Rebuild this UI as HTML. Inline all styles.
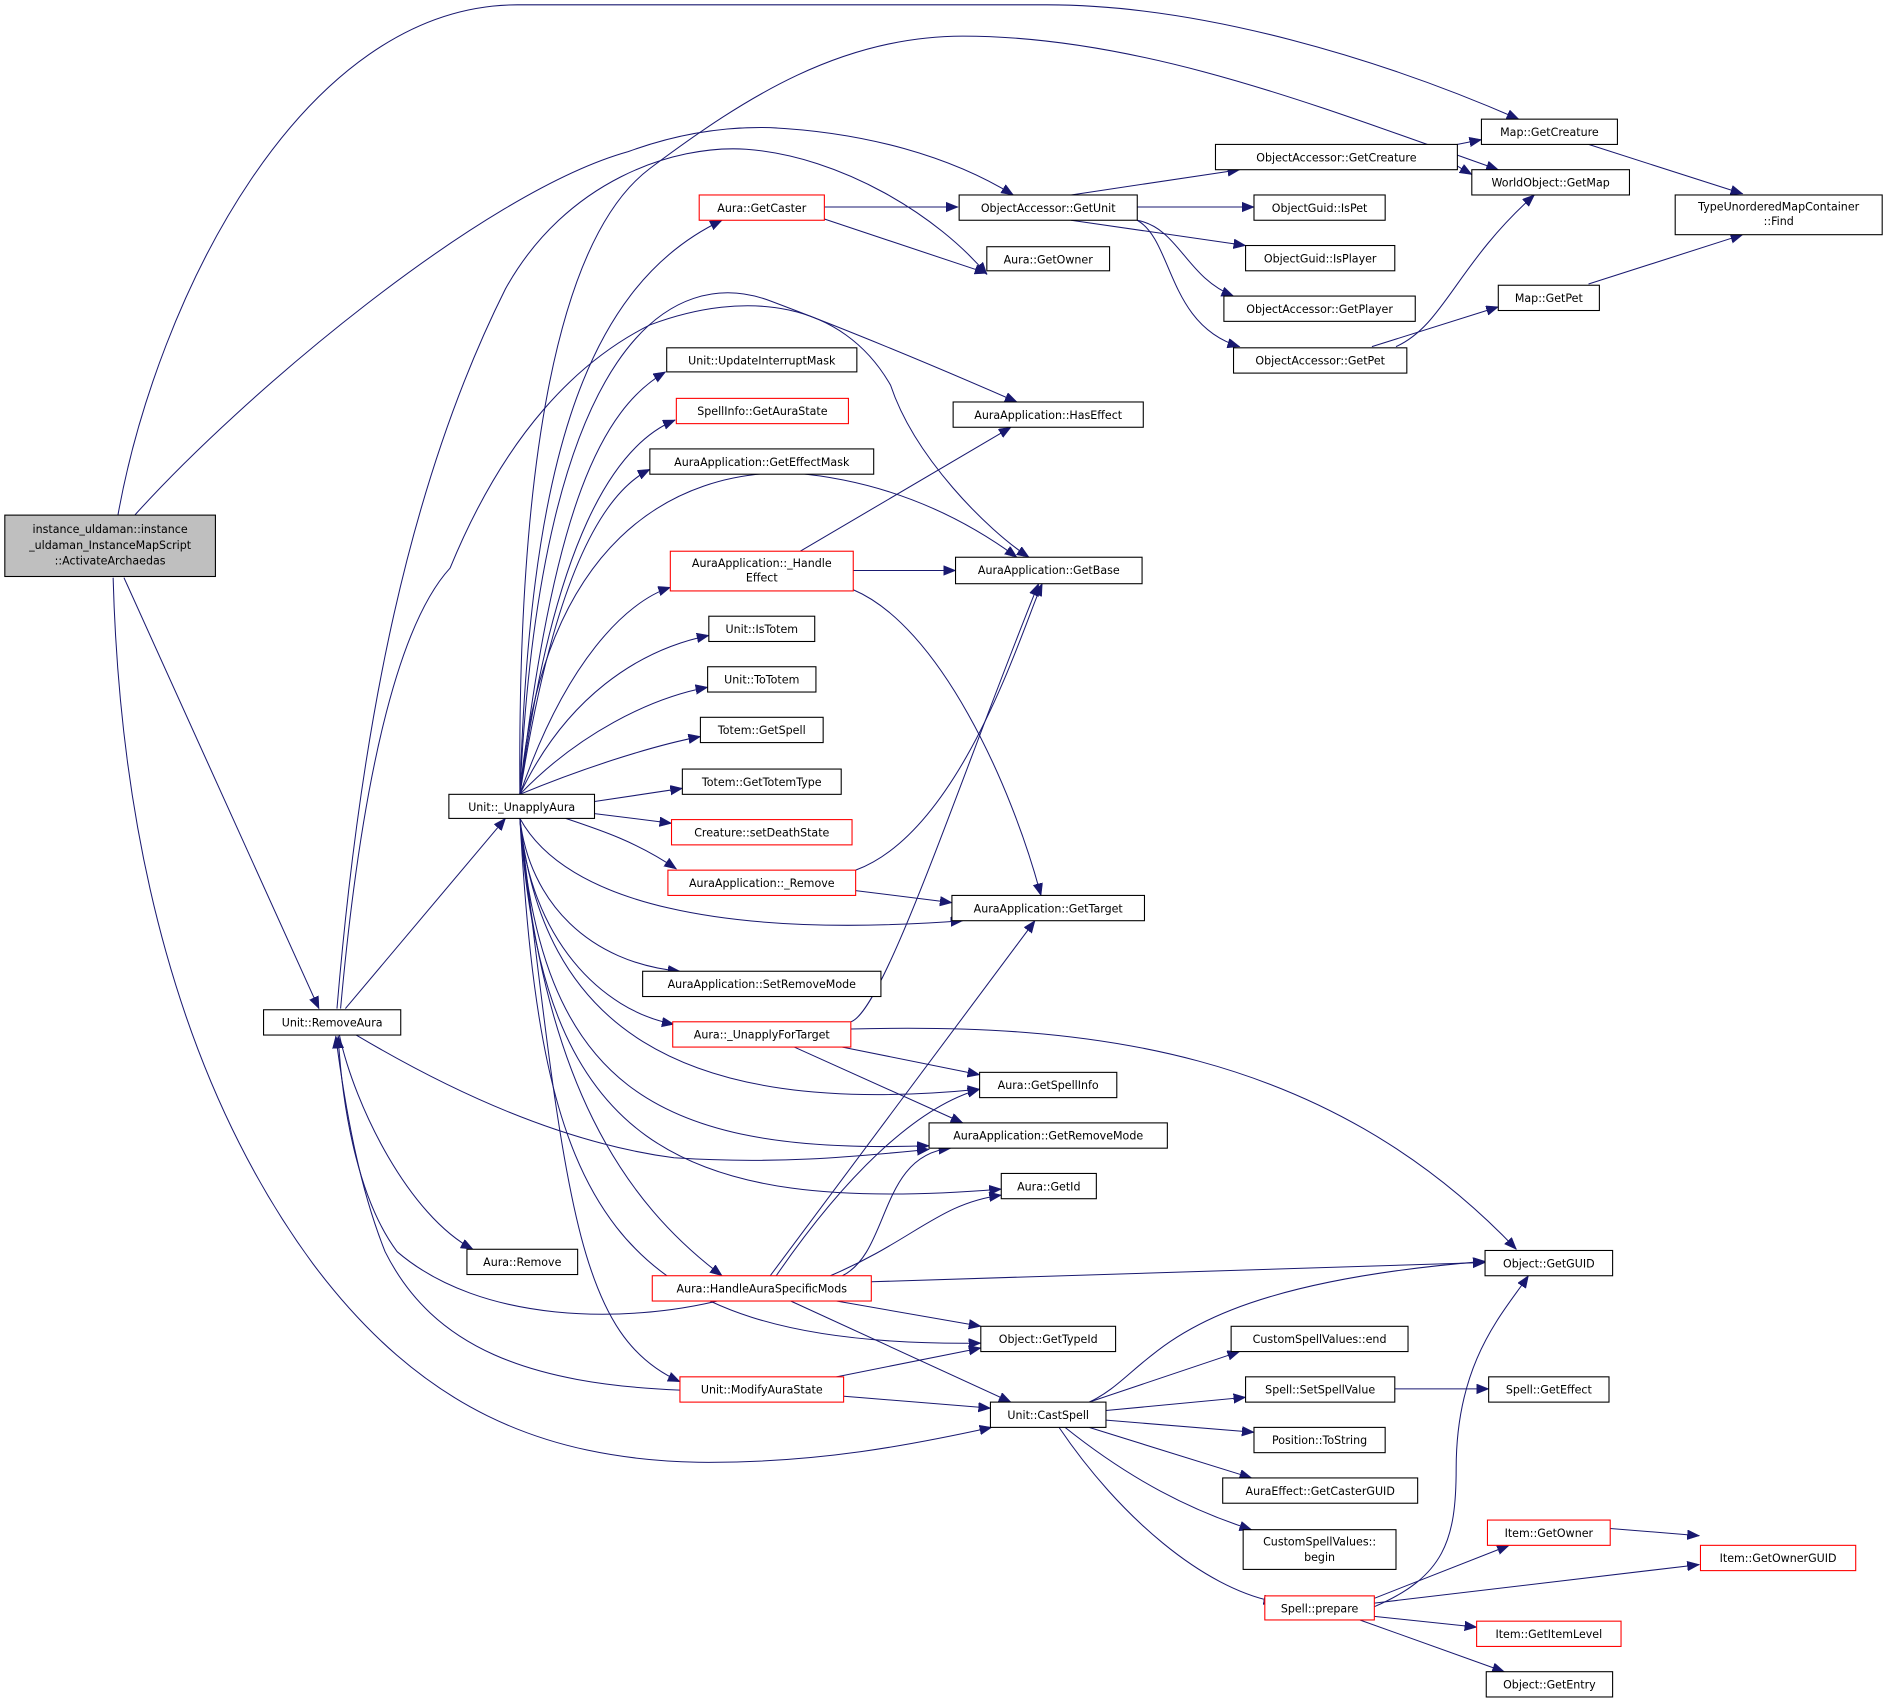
<!DOCTYPE html>
<html><head><meta charset="utf-8"><style>
html,body{margin:0;padding:0;background:#fff;}
svg{display:block;}
text{font-family:"DejaVu Sans","Liberation Sans",sans-serif;font-size:9.2px;fill:#000;text-anchor:middle;}
.n{fill:#fff;stroke:#000;stroke-width:0.9;}
.r{fill:#fff;stroke:#ff0000;stroke-width:0.9;}
.e{fill:none;stroke:#191970;stroke-width:0.85;marker-end:url(#a);}
</style></head><body>
<svg width="1887" height="1703" viewBox="0 0 1568 1415" preserveAspectRatio="none" xmlns="http://www.w3.org/2000/svg">
<defs><marker id="a" markerUnits="userSpaceOnUse" markerWidth="12" markerHeight="10" refX="10" refY="4" orient="auto"><path d="M0,0 L10,4 L0,8 Z" fill="#191970" stroke="#191970" stroke-width="0.5"/></marker></defs>
<g>
<path class="e" d="M98,428 C130,250 250,4 430,4 L870,4 C1000,4 1150,50 1262,99"/>
<path class="e" d="M112,428 C200,330 400,160 522,126 C560,112 600,105 640,106 C720,110 790,130 842,162"/>
<path class="e" d="M103,480 L265,838"/>
<path class="e" d="M94,480 C100,700 150,900 260,1050 C350,1170 450,1212 580,1215 C680,1216 760,1200 824,1186"/>
<path class="e" d="M287,838 L420,680"/>
<path class="e" d="M282,860 C295,920 340,1010 393,1038"/>
<path class="e" d="M296,860 C380,910 470,950 560,962 C650,968 720,960 772,955"/>
<path class="e" d="M600,1080 C520,1100 400,1100 330,1040 C300,1000 285,930 281,861"/>
<path class="e" d="M565,1155 C440,1150 360,1120 320,1040 C300,990 288,930 279,861"/>
<path class="e" d="M280,838 C300,600 340,400 420,240 C470,150 560,120 620,124 C700,130 780,180 820,228"/>
<path class="e" d="M283,838 C300,650 330,520 374,472 C420,360 480,300 540,270 C620,240 700,250 740,320 C760,380 820,440 855,463"/>
<path class="e" d="M432,660 C430,400 460,200 540,140 C620,80 700,30 800,30 C950,30 1100,90 1245,141"/>
<path class="e" d="M432,660 C440,400 480,240 600,183"/>
<path class="e" d="M432,660 C450,280 560,220 640,250 C720,280 790,310 845,334"/>
<path class="e" d="M432,660 C450,450 560,390 660,393 C740,400 800,430 845,463"/>
<path class="e" d="M432,660 C460,420 500,340 553,309"/>
<path class="e" d="M432,660 C460,450 510,370 561,349"/>
<path class="e" d="M432,660 C460,480 500,410 540,390"/>
<path class="e" d="M432,660 C470,550 520,500 557,488"/>
<path class="e" d="M432,660 C470,580 530,540 589,528"/>
<path class="e" d="M432,660 C480,610 540,580 588,571"/>
<path class="e" d="M432,660 C480,640 540,620 582,612"/>
<path class="e" d="M494,666 L567,655"/>
<path class="e" d="M494,676 L558,684"/>
<path class="e" d="M470,680 C500,690 530,700 562,722"/>
<path class="e" d="M432,680 C470,750 600,780 800,765"/>
<path class="e" d="M432,680 C440,750 490,800 565,807"/>
<path class="e" d="M432,680 C440,780 500,840 560,851"/>
<path class="e" d="M432,680 C450,850 560,930 814,905"/>
<path class="e" d="M432,680 C450,900 540,960 772,952"/>
<path class="e" d="M432,680 C450,950 560,1010 832,988"/>
<path class="e" d="M432,680 C450,900 520,1000 600,1060"/>
<path class="e" d="M432,680 C450,1000 500,1120 815,1116"/>
<path class="e" d="M432,680 C470,1000 480,1110 565,1148"/>
<path class="e" d="M685,172 L796,172"/>
<path class="e" d="M685,182 L820,227"/>
<path class="e" d="M890,162 L1030,141"/>
<path class="e" d="M945,172 L1042,172"/>
<path class="e" d="M890,183 L1035,204"/>
<path class="e" d="M945,183 C980,190 985,230 1025,246"/>
<path class="e" d="M945,183 C975,200 970,270 1030,288"/>
<path class="e" d="M1196,123 L1231,116"/>
<path class="e" d="M1211,138 L1223,145"/>
<path class="e" d="M1320,120 L1448,161"/>
<path class="e" d="M1320,236 L1448,195"/>
<path class="e" d="M1140,288 L1245,255"/>
<path class="e" d="M1160,288 C1200,270 1210,220 1275,162"/>
<path class="e" d="M665,458 L840,355"/>
<path class="e" d="M709,474 L794,474"/>
<path class="e" d="M709,490 C780,520 840,650 865,744"/>
<path class="e" d="M711,723 C800,690 850,520 866,485"/>
<path class="e" d="M707,849 C735,840 800,640 863,485"/>
<path class="e" d="M711,740 L791,750"/>
<path class="e" d="M700,870 L814,893"/>
<path class="e" d="M660,870 L800,933"/>
<path class="e" d="M707,855 C900,850 1100,870 1260,1038"/>
<path class="e" d="M640,1060 L860,765"/>
<path class="e" d="M645,1060 C700,980 760,920 814,905"/>
<path class="e" d="M700,1060 C740,1040 730,960 790,954"/>
<path class="e" d="M690,1060 C760,1030 780,1000 832,993"/>
<path class="e" d="M724,1065 L1234,1049"/>
<path class="e" d="M695,1081 L815,1102"/>
<path class="e" d="M657,1081 L840,1165"/>
<path class="e" d="M695,1144 L815,1120"/>
<path class="e" d="M700,1160 L823,1170"/>
<path class="e" d="M905,1165 C960,1140 960,1070 1234,1048"/>
<path class="e" d="M905,1165 L1030,1123"/>
<path class="e" d="M919,1172 L1035,1161"/>
<path class="e" d="M919,1180 L1042,1190"/>
<path class="e" d="M905,1186 L1040,1228"/>
<path class="e" d="M885,1186 C940,1230 990,1255 1040,1271"/>
<path class="e" d="M880,1186 C930,1260 1000,1320 1060,1331"/>
<path class="e" d="M1159,1154 L1237,1154"/>
<path class="e" d="M1142,1335 C1200,1310 1210,1280 1210,1220 C1210,1130 1250,1090 1270,1060"/>
<path class="e" d="M1142,1328 L1254,1284"/>
<path class="e" d="M1142,1332 L1412,1300"/>
<path class="e" d="M1142,1343 L1227,1352"/>
<path class="e" d="M1130,1346 L1250,1389"/>
<path class="e" d="M1338,1270 L1412,1276"/>
</g>
<g>
<rect x="4" y="428" width="175" height="51" fill="#bfbfbf" stroke="#000" stroke-width="0.9"/>
<text x="91.5" y="443">instance_uldaman::instance</text>
<text x="91.5" y="456">_uldaman_InstanceMapScript</text>
<text x="91.5" y="469">::ActivateArchaedas</text>

<rect class="n" x="219" y="839" width="114" height="21"/><text x="276" y="853">Unit::RemoveAura</text>
<rect class="n" x="373" y="660" width="121" height="20"/><text x="433.5" y="674">Unit::_UnapplyAura</text>
<rect class="n" x="388" y="1038" width="92" height="21"/><text x="434" y="1052">Aura::Remove</text>

<rect class="r" x="581" y="162" width="104" height="21"/><text x="633" y="176">Aura::GetCaster</text>
<rect class="n" x="797" y="162" width="148" height="21"/><text x="871" y="176">ObjectAccessor::GetUnit</text>
<rect class="n" x="820" y="205" width="102" height="20"/><text x="871" y="219">Aura::GetOwner</text>
<rect class="n" x="554" y="289" width="158" height="20"/><text x="633" y="303">Unit::UpdateInterruptMask</text>
<rect class="r" x="562" y="331" width="143" height="21"/><text x="633.5" y="345">SpellInfo::GetAuraState</text>
<rect class="n" x="540" y="373" width="186" height="21"/><text x="633" y="387">AuraApplication::GetEffectMask</text>
<rect class="n" x="792" y="334" width="158" height="21"/><text x="871" y="348">AuraApplication::HasEffect</text>
<rect class="r" x="557" y="458" width="152" height="33"/><text x="633" y="471">AuraApplication::_Handle</text><text x="633" y="483">Effect</text>
<rect class="n" x="794" y="463" width="155" height="22"/><text x="871.5" y="477">AuraApplication::GetBase</text>
<rect class="n" x="589" y="512" width="88" height="21"/><text x="633" y="526">Unit::IsTotem</text>
<rect class="n" x="588" y="554" width="90" height="21"/><text x="633" y="568">Unit::ToTotem</text>
<rect class="n" x="582" y="596" width="102" height="21"/><text x="633" y="610">Totem::GetSpell</text>
<rect class="n" x="567" y="639" width="132" height="21"/><text x="633" y="653">Totem::GetTotemType</text>
<rect class="r" x="558" y="681" width="150" height="21"/><text x="633" y="695">Creature::setDeathState</text>
<rect class="r" x="555" y="723" width="156" height="21"/><text x="633" y="737">AuraApplication::_Remove</text>
<rect class="n" x="791" y="744" width="160" height="21"/><text x="871" y="758">AuraApplication::GetTarget</text>
<rect class="n" x="534" y="807" width="198" height="21"/><text x="633" y="821">AuraApplication::SetRemoveMode</text>
<rect class="r" x="559" y="849" width="148" height="21"/><text x="633" y="863">Aura::_UnapplyForTarget</text>
<rect class="n" x="814" y="891" width="114" height="21"/><text x="871" y="905">Aura::GetSpellInfo</text>
<rect class="n" x="772" y="933" width="198" height="21"/><text x="871" y="947">AuraApplication::GetRemoveMode</text>
<rect class="n" x="832" y="975" width="79" height="21"/><text x="871.5" y="989">Aura::GetId</text>
<rect class="r" x="542" y="1060" width="182" height="21"/><text x="633" y="1074">Aura::HandleAuraSpecificMods</text>
<rect class="n" x="815" y="1102" width="112" height="21"/><text x="871" y="1116">Object::GetTypeId</text>
<rect class="r" x="565" y="1144" width="136" height="21"/><text x="633" y="1158">Unit::ModifyAuraState</text>
<rect class="n" x="823" y="1165" width="96" height="21"/><text x="871" y="1179">Unit::CastSpell</text>

<rect class="n" x="1010" y="120" width="201" height="21"/><text x="1110.5" y="134">ObjectAccessor::GetCreature</text>
<rect class="n" x="1042" y="162" width="109" height="21"/><text x="1096.5" y="176">ObjectGuid::IsPet</text>
<rect class="n" x="1035" y="204" width="124" height="21"/><text x="1097" y="218">ObjectGuid::IsPlayer</text>
<rect class="n" x="1017" y="246" width="159" height="21"/><text x="1096.5" y="260">ObjectAccessor::GetPlayer</text>
<rect class="n" x="1025" y="289" width="144" height="21"/><text x="1097" y="303">ObjectAccessor::GetPet</text>
<rect class="n" x="1231" y="99" width="113" height="21"/><text x="1287.5" y="113">Map::GetCreature</text>
<rect class="n" x="1223" y="141" width="131" height="21"/><text x="1288.5" y="155">WorldObject::GetMap</text>
<rect class="n" x="1245" y="237" width="84" height="21"/><text x="1287" y="251">Map::GetPet</text>
<rect class="n" x="1392" y="162" width="172" height="33"/><text x="1478" y="175">TypeUnorderedMapContainer</text><text x="1478" y="187">::Find</text>

<rect class="n" x="1234" y="1039" width="106" height="21"/><text x="1287" y="1053">Object::GetGUID</text>
<rect class="n" x="1023" y="1102" width="147" height="21"/><text x="1096.5" y="1116">CustomSpellValues::end</text>
<rect class="n" x="1035" y="1144" width="124" height="21"/><text x="1097" y="1158">Spell::SetSpellValue</text>
<rect class="n" x="1237" y="1144" width="100" height="21"/><text x="1287" y="1158">Spell::GetEffect</text>
<rect class="n" x="1042" y="1186" width="109" height="21"/><text x="1096.5" y="1200">Position::ToString</text>
<rect class="n" x="1016" y="1228" width="162" height="21"/><text x="1097" y="1242">AuraEffect::GetCasterGUID</text>
<rect class="n" x="1033" y="1271" width="127" height="33"/><text x="1096.5" y="1284">CustomSpellValues::</text><text x="1096.5" y="1297">begin</text>
<rect class="r" x="1051" y="1326" width="91" height="20"/><text x="1096.5" y="1340">Spell::prepare</text>
<rect class="r" x="1236" y="1263" width="102" height="21"/><text x="1287" y="1277">Item::GetOwner</text>
<rect class="r" x="1413" y="1284" width="129" height="21"/><text x="1477.5" y="1298">Item::GetOwnerGUID</text>
<rect class="r" x="1227" y="1347" width="120" height="21"/><text x="1287" y="1361">Item::GetItemLevel</text>
<rect class="n" x="1235" y="1389" width="105" height="21"/><text x="1287.5" y="1403">Object::GetEntry</text>
</g>
</svg>
</body></html>
